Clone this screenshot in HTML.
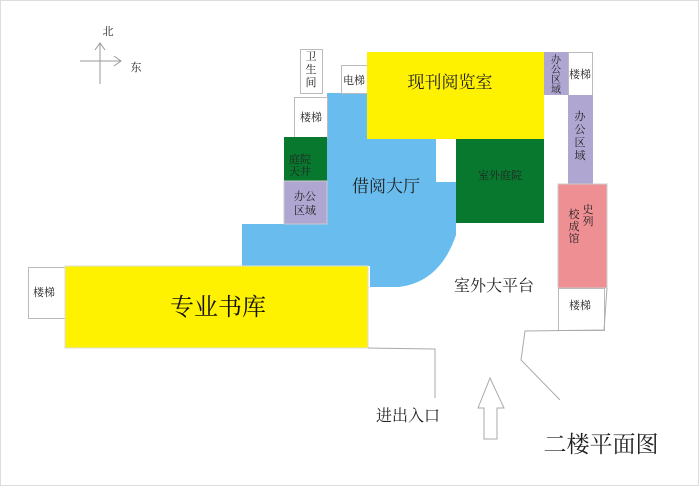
<!DOCTYPE html>
<html><head><meta charset="utf-8"><style>
html,body{margin:0;padding:0;background:#fff}
svg{display:block}
text{font-family:"Liberation Serif","Noto Serif CJK SC","Noto Sans CJK SC",serif;fill:#222}
</style></head><body>
<svg width="700" height="486" viewBox="0 0 700 486" xmlns="http://www.w3.org/2000/svg">
<rect x="0" y="0" width="700" height="486" fill="#fff"/>
<rect x="0.5" y="0.5" width="698" height="485" fill="none" stroke="#ddd"/>
<!-- compass -->
<g stroke="#999" stroke-width="1" fill="none">
<line x1="100" y1="43" x2="100" y2="84"/><polyline points="95,50 100,43 105,50"/>
<line x1="80" y1="61" x2="121" y2="61"/><polyline points="114,56 121,61 114,66"/>
</g>
<text x="108" y="35" font-size="11" text-anchor="middle">北</text>
<text x="136" y="71" font-size="11" text-anchor="middle">东</text>
<!-- blue hall -->
<path d="M327,93 L367,93 L367,139 L436,139 L436,182 L456,182 L456,235 Q440,282 399,287 L370,287 L370,266 L242,266 L242,224 L327,224 Z" fill="#69bdee"/>
<!-- left column -->
<rect x="300.5" y="49.5" width="22" height="44" fill="#fff" stroke="#bbb"/>
<text x="311" y="60" font-size="11" text-anchor="middle">卫</text>
<text x="311" y="73" font-size="11" text-anchor="middle">生</text>
<text x="311" y="86" font-size="11" text-anchor="middle">间</text>
<rect x="341.5" y="65.5" width="26" height="28" fill="#fff" stroke="#bbb"/>
<text x="354" y="84" font-size="11" text-anchor="middle">电梯</text>
<rect x="294.5" y="97.5" width="33" height="40" fill="#fff" stroke="#bbb"/>
<text x="311" y="121" font-size="11" text-anchor="middle">楼梯</text>
<rect x="284" y="137" width="43" height="44" fill="#08782f"/>
<text x="300" y="163" font-size="11" text-anchor="middle">庭院</text>
<text x="300" y="175" font-size="11" text-anchor="middle">天井</text>
<rect x="284" y="181" width="43" height="43" fill="#b0a6d2" stroke="#ccc"/>
<text x="305" y="200" font-size="11" text-anchor="middle">办公</text>
<text x="305" y="214" font-size="11" text-anchor="middle">区域</text>
<!-- yellow top -->
<rect x="367" y="52" width="177" height="87" fill="#fff200"/>
<text x="450" y="88" font-size="17" text-anchor="middle">现刊阅览室</text>
<text x="386" y="192" font-size="17" text-anchor="middle">借阅大厅</text>
<rect x="456" y="139" width="88" height="84" fill="#08782f"/>
<text x="500" y="179" font-size="11" text-anchor="middle">室外庭院</text>
<!-- right -->
<rect x="544" y="52" width="24" height="43" fill="#b0a6d2"/>
<text x="556" y="63" font-size="10" text-anchor="middle">办</text>
<text x="556" y="73" font-size="10" text-anchor="middle">公</text>
<text x="556" y="83" font-size="10" text-anchor="middle">区</text>
<text x="556" y="93" font-size="10" text-anchor="middle">域</text>
<rect x="568.5" y="52.5" width="24" height="43" fill="#fff" stroke="#bbb"/>
<text x="580" y="78" font-size="11" text-anchor="middle">楼梯</text>
<rect x="568" y="95" width="25" height="89" fill="#b0a6d2"/>
<text x="580" y="120" font-size="11" text-anchor="middle">办</text>
<text x="580" y="133" font-size="11" text-anchor="middle">公</text>
<text x="580" y="146" font-size="11" text-anchor="middle">区</text>
<text x="580" y="159" font-size="11" text-anchor="middle">域</text>
<rect x="558" y="184" width="49" height="104" fill="#ee8f93" stroke="#ccc"/>
<text x="574" y="218" font-size="11" text-anchor="middle">校</text>
<text x="574" y="230" font-size="11" text-anchor="middle">成</text>
<text x="574" y="242" font-size="11" text-anchor="middle">馆</text>
<text x="588" y="213" font-size="11" text-anchor="middle">史</text>
<text x="588" y="225" font-size="11" text-anchor="middle">列</text>
<rect x="558.5" y="288.5" width="46" height="42" fill="#fff" stroke="#bbb"/>
<text x="580" y="309" font-size="11" text-anchor="middle">楼梯</text>
<!-- library -->
<rect x="28.5" y="267.5" width="37" height="51" fill="#fff" stroke="#bbb"/>
<text x="44" y="296" font-size="11" text-anchor="middle">楼梯</text>
<rect x="65" y="266" width="303" height="82" fill="#fff200" stroke="#ddd"/>
<text x="218" y="315" font-size="24" text-anchor="middle" style="fill:#111">专业书库</text>
<text x="494" y="291" font-size="16" text-anchor="middle">室外大平台</text>
<!-- lines -->
<g stroke="#aaa" stroke-width="1" fill="none">
<polyline points="368,348 435,349 435,398"/>
<polyline points="607,288 604,330 525,331 521,360 560,400"/>
<path d="M490,378 L504,408 L497,408 L497,439 L484,439 L484,408 L478,408 Z"/>
</g>
<text x="408" y="421" font-size="16" text-anchor="middle">进出入口</text>
<text x="601" y="452" font-size="23" text-anchor="middle">二楼平面图</text>
</svg>
</body></html>
